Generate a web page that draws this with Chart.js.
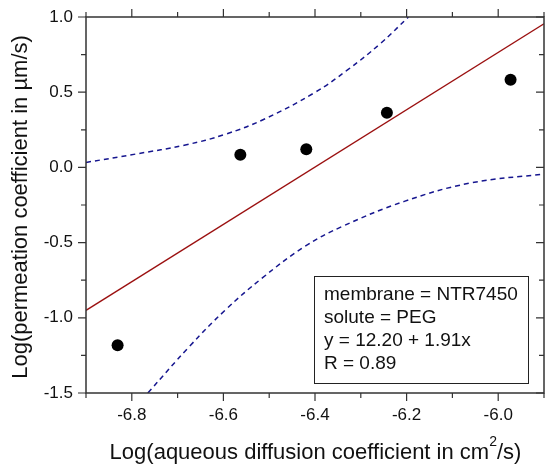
<!DOCTYPE html>
<html>
<head>
<meta charset="utf-8">
<script src="https://cdn.jsdelivr.net/npm/chart.js@4.4.0/dist/chart.umd.min.js"></script>
<style>
  html, body { margin: 0; padding: 0; background: #fff; }
  #wrap { width: 550px; height: 464px; position: relative; }
</style>
</head>
<body>
<div id="wrap"><canvas id="chart" width="550" height="464"></canvas></div>
<script>
// Données
const measX = [-6.831, -6.563, -6.419, -6.243, -5.973];
const measY = [-1.183, 0.084, 0.120, 0.364, 0.583];

const fitX = [-6.9, -5.9];
const fitY = [-0.951, 0.955];

const upperX = [-6.9, -6.791, -6.683, -6.596, -6.510, -6.401, -6.329, -6.257, -6.196];
const upperY = [0.033, 0.089, 0.149, 0.220, 0.322, 0.497, 0.648, 0.824, 1.0];

const lowerX = [-6.765, -6.674, -6.595, -6.515, -6.422, -6.340, -6.205, -6.061, -5.9];
const lowerY = [-1.5, -1.190, -0.946, -0.735, -0.525, -0.392, -0.226, -0.104, -0.044];

const xLabels = ['-6.8', '-6.6', '-6.4', '-6.2', '-6.0'];
const yLabels = ['-1.5', '-1.0', '-0.5', '0.0', '0.5', '1.0'];

const legendLines = ['membrane = NTR7450', 'solute = PEG', 'y = 12.20 + 1.91x', 'R = 0.89'];

const FONT = "'Liberation Sans', Arial, sans-serif";

function toPoints(xs, ys) {
    return xs.map((x, i) => ({ x: x, y: ys[i] }));
}

// Cadre, graduations, titres et encadré
const framePlugin = {
    id: 'frame',
    afterDraw(chart) {
        const c = chart.ctx;
        const a = chart.chartArea;
        const xs = chart.scales.x;
        const ys = chart.scales.y;
        c.save();
        c.strokeStyle = '#333';
        c.lineWidth = 1.5;
        c.strokeRect(a.left, a.top, a.right - a.left, a.bottom - a.top);

        c.lineWidth = 1.2;
        xs.ticks.forEach(t => {
            const px = xs.getPixelForValue(t.value);
            const major = Math.abs(Math.round(t.value * 10)) % 2 === 0;
            const len = major ? 8 : 5;
            c.beginPath();
            c.moveTo(px, a.bottom); c.lineTo(px, a.bottom + len);
            c.moveTo(px, a.top); c.lineTo(px, a.top - len);
            c.stroke();
        });
        ys.ticks.forEach(t => {
            const py = ys.getPixelForValue(t.value);
            const major = Math.abs(Math.round(t.value * 4)) % 2 === 0;
            const len = major ? 8 : 5;
            c.beginPath();
            c.moveTo(a.left, py); c.lineTo(a.left - len, py);
            c.moveTo(a.right, py); c.lineTo(a.right - len, py);
            c.stroke();
        });

        // Encadré de légende
        c.lineWidth = 1;
        c.strokeStyle = '#222';
        c.strokeRect(314.5, 276.5, 214, 107);
        c.fillStyle = '#111';
        c.font = '19px ' + FONT;
        c.textBaseline = 'middle';
        c.textAlign = 'left';
        legendLines.forEach((s, i) => c.fillText(s, 324, 295 + i * 22.8));

        // Titres des axes
        c.font = '22px ' + FONT;
        c.textBaseline = 'alphabetic';
        const main = 'Log(aqueous diffusion coefficient in cm';
        const sup = '2';
        const tail = '/s)';
        const wMain = c.measureText(main).width;
        const wTail = c.measureText(tail).width;
        c.font = '14px ' + FONT;
        const wSup = c.measureText(sup).width;
        const total = wMain + wSup + wTail;
        const x0 = 315.5 - total / 2;
        const base = 459;
        c.font = '22px ' + FONT;
        c.fillText(main, x0, base);
        c.font = '14px ' + FONT;
        c.fillText(sup, x0 + wMain, base - 13);
        c.font = '22px ' + FONT;
        c.fillText(tail, x0 + wMain + wSup, base);

        c.save();
        c.translate(27, 207);
        c.rotate(-Math.PI / 2);
        c.textAlign = 'center';
        c.fillText('Log(permeation coefficient in \u00b5m/s)', 0, 0);
        c.restore();
        c.restore();
    }
};

new Chart(document.getElementById('chart'), {
    type: 'scatter',
    data: {
        datasets: [
            {
                label: 'upper',
                data: toPoints(upperX, upperY),
                showLine: true,
                borderColor: '#16168f',
                borderWidth: 1.5,
                borderDash: [5, 4],
                pointRadius: 0,
                tension: 0.4,
                fill: false
            },
            {
                label: 'lower',
                data: toPoints(lowerX, lowerY),
                showLine: true,
                borderColor: '#16168f',
                borderWidth: 1.5,
                borderDash: [5, 4],
                pointRadius: 0,
                tension: 0.4,
                fill: false
            },
            {
                label: 'fit',
                data: toPoints(fitX, fitY),
                showLine: true,
                borderColor: '#9b1010',
                borderWidth: 1.4,
                pointRadius: 0,
                fill: false
            },
            {
                label: 'mesures',
                data: toPoints(measX, measY),
                showLine: false,
                pointRadius: 6,
                pointBackgroundColor: '#000',
                pointBorderColor: '#000',
                pointBorderWidth: 0
            }
        ]
    },
    options: {
        responsive: false,
        animation: false,
        events: [],
        layout: { padding: { top: 17, right: 3, left: 0, bottom: 0 } },
        plugins: {
            legend: { display: false },
            tooltip: { enabled: false }
        },
        scales: {
            x: {
                type: 'linear',
                min: -6.9,
                max: -5.9,
                afterFit: s => {
                    s.height = 71;
                    s.paddingLeft = 0; s.paddingRight = 0;
                },
                afterBuildTicks: s => {
                    s.ticks = [];
                    for (let i = -69; i <= -59; i++) s.ticks.push({ value: i / 10 });
                },
                ticks: {
                    padding: 12,
                    color: '#111',
                    font: { family: FONT, size: 17 },
                    maxRotation: 0,
                    autoSkip: false,
                    callback: v => {
                        const s = (Math.round(v * 10) / 10).toFixed(1);
                        return xLabels.includes(s) ? s : '';
                    }
                },
                grid: { drawOnChartArea: false, drawTicks: false },
                border: { display: false }
            },
            y: {
                type: 'linear',
                min: -1.5,
                max: 1.0,
                afterFit: s => {
                    s.width = 86;
                    s.paddingTop = 0; s.paddingBottom = 0;
                },
                afterBuildTicks: s => {
                    s.ticks = [];
                    for (let i = -6; i <= 4; i++) s.ticks.push({ value: i / 4 });
                },
                ticks: {
                    padding: 13,
                    color: '#111',
                    font: { family: FONT, size: 17 },
                    autoSkip: false,
                    callback: v => {
                        const s = (Math.round(v * 4) / 4).toFixed(1);
                        return (Math.abs(Math.round(v * 4)) % 2 === 0 && yLabels.includes(s)) ? s : '';
                    }
                },
                grid: { drawOnChartArea: false, drawTicks: false },
                border: { display: false }
            }
        }
    },
    plugins: [framePlugin]
});
</script>
</body>
</html>
